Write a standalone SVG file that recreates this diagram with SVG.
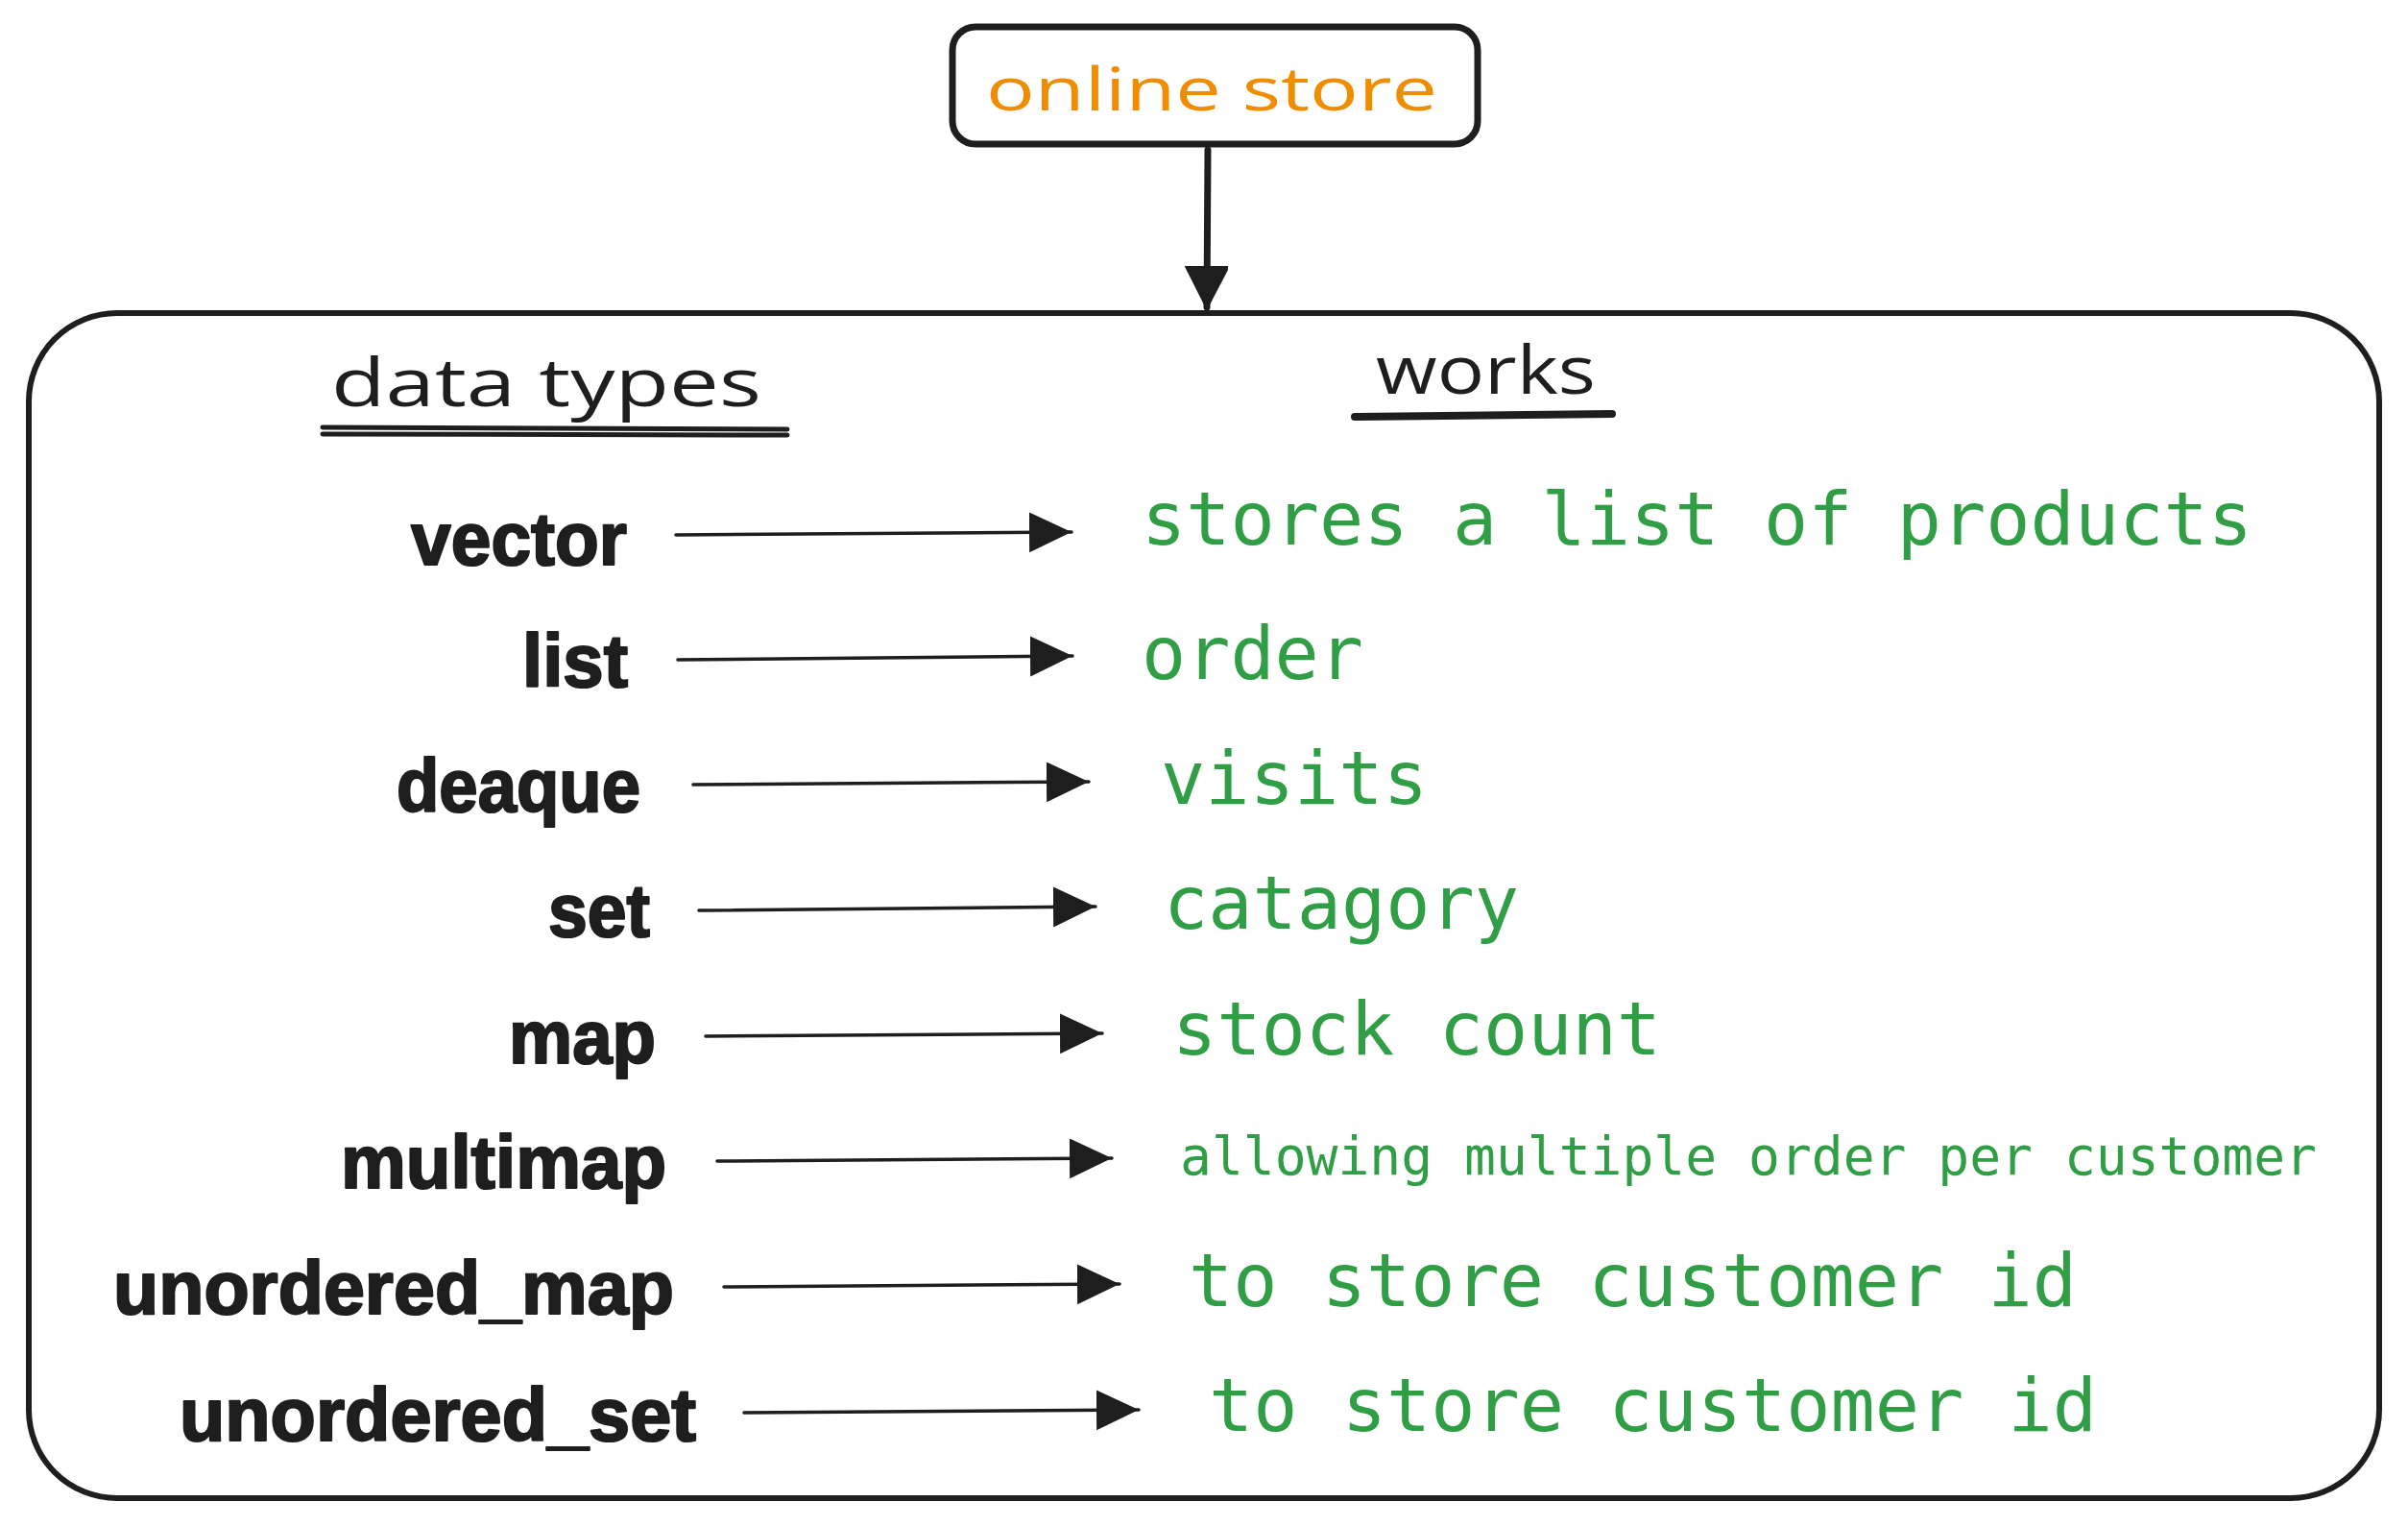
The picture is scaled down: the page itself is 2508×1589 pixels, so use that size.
<svg xmlns="http://www.w3.org/2000/svg" width="2508" height="1589" viewBox="0 0 2508 1589">
<style>
.box{fill:#ffffff;stroke:#1e1e1e;stroke-linecap:round;stroke-linejoin:round}
.hand{font-family:"Open Sans","DejaVu Sans",sans-serif;font-weight:400}
.lbl{font-family:"Liberation Sans",Arial,sans-serif;font-weight:700;font-size:78px;fill:#1e1e1e;stroke:#1e1e1e;stroke-width:2.2px;stroke-linejoin:round}
.work{font-family:"DejaVu Sans Mono","Liberation Mono",monospace;font-size:77px;fill:#2f9e44}
.work-sm{font-family:"DejaVu Sans Mono","Liberation Mono",monospace;font-size:55px;fill:#2f9e44}
.conn{fill:none;stroke:#1e1e1e;stroke-linecap:round}
.ul{fill:none;stroke:#1e1e1e;stroke-linecap:round}
</style>
<defs>
<marker id="ah" markerUnits="userSpaceOnUse" markerWidth="46" markerHeight="44" refX="44" refY="21" orient="auto">
<path d="M0,0 L44,21 L0,42 Z" fill="#1e1e1e"/>
</marker>
<marker id="ahTop" markerUnits="userSpaceOnUse" markerWidth="46" markerHeight="48" refX="43" refY="22" orient="auto">
<path d="M0,0 L43,22 L0,44 Z" fill="#1e1e1e" stroke="#1e1e1e" stroke-width="3" stroke-linejoin="round"/>
</marker>
</defs>
<rect width="2508" height="1589" fill="#ffffff"/>

<g id="online-store">
<rect class="box" x="992" y="28" width="547" height="122" rx="24" stroke-width="7"/>
<text class="hand" x="1027" y="115" font-size="62" fill="#f08c00" textLength="470" lengthAdjust="spacingAndGlyphs">online store</text>
</g>

<g id="container">
<rect class="box" x="30" y="326" width="2448" height="1234" rx="92" stroke-width="6"/>
</g>

<g id="header-data-types">
<text class="hand" x="345" y="423" font-size="70" fill="#1e1e1e" textLength="448" lengthAdjust="spacingAndGlyphs">data types</text>
<path class="ul" d="M336,445 L820,447" stroke-width="5"/>
<path class="ul" d="M336,452 L820,453" stroke-width="5"/>
</g>

<g id="header-works">
<text class="hand" x="1433" y="410" font-size="69" fill="#1e1e1e" textLength="229" lengthAdjust="spacingAndGlyphs">works</text>
<path class="ul" d="M1411,434 L1679,431" stroke-width="8"/>
</g>

<g id="labels">
<g id="lbl-vector"><text class="lbl" x="428" y="588" textLength="225" lengthAdjust="spacingAndGlyphs">vector</text></g>
<g id="lbl-list"><text class="lbl" x="544" y="715" textLength="110" lengthAdjust="spacingAndGlyphs">list</text></g>
<g id="lbl-deaque"><text class="lbl" x="413" y="845" textLength="254" lengthAdjust="spacingAndGlyphs">deaque</text></g>
<g id="lbl-set"><text class="lbl" x="571" y="975" textLength="106" lengthAdjust="spacingAndGlyphs">set</text></g>
<g id="lbl-map"><text class="lbl" x="530" y="1107" textLength="153" lengthAdjust="spacingAndGlyphs">map</text></g>
<g id="lbl-multimap"><text class="lbl" x="355" y="1237" textLength="339" lengthAdjust="spacingAndGlyphs">multimap</text></g>
<g id="lbl-unordered-map"><text class="lbl" x="118" y="1368" textLength="584" lengthAdjust="spacingAndGlyphs">unordered_map</text></g>
<g id="lbl-unordered-set"><text class="lbl" x="187" y="1500" textLength="538" lengthAdjust="spacingAndGlyphs">unordered_set</text></g>
</g>

<g id="works-items">
<g id="w-vector"><text class="work" x="1189" y="567" textLength="1157" lengthAdjust="spacingAndGlyphs">stores a list of products</text></g>
<g id="w-list"><text class="work" x="1189" y="707" textLength="231" lengthAdjust="spacingAndGlyphs">order</text></g>
<g id="w-deaque"><text class="work" x="1209" y="837" textLength="278" lengthAdjust="spacingAndGlyphs">visits</text></g>
<g id="w-set"><text class="work" x="1212" y="967" textLength="370" lengthAdjust="spacingAndGlyphs">catagory</text></g>
<g id="w-map"><text class="work" x="1221" y="1098" textLength="509" lengthAdjust="spacingAndGlyphs">stock count</text></g>
<g id="w-multimap"><text class="work-sm" x="1229" y="1223" textLength="1184" lengthAdjust="spacingAndGlyphs">allowing multiple order per customer</text></g>
<g id="w-unordered-map"><text class="work" x="1238" y="1360" textLength="925" lengthAdjust="spacingAndGlyphs">to store customer id</text></g>
<g id="w-unordered-set"><text class="work" x="1259" y="1490" textLength="925" lengthAdjust="spacingAndGlyphs">to store customer id</text></g>
</g>

<g id="connectors">
<path class="conn" d="M1258,156 L1257,320" stroke-width="7" marker-end="url(#ahTop)"/>
<path class="conn" d="M704,557 L1116,554" stroke-width="3.5" marker-end="url(#ah)"/>
<path class="conn" d="M706,687 L1117,683" stroke-width="3.5" marker-end="url(#ah)"/>
<path class="conn" d="M722,817 L1134,814" stroke-width="3.5" marker-end="url(#ah)"/>
<path class="conn" d="M728,948 L1141,944" stroke-width="3.5" marker-end="url(#ah)"/>
<path class="conn" d="M735,1079 L1148,1076" stroke-width="3.5" marker-end="url(#ah)"/>
<path class="conn" d="M747,1209 L1158,1206" stroke-width="3.5" marker-end="url(#ah)"/>
<path class="conn" d="M754,1340 L1166,1337" stroke-width="3.5" marker-end="url(#ah)"/>
<path class="conn" d="M775,1471 L1186,1468" stroke-width="3.5" marker-end="url(#ah)"/>
</g>
</svg>
